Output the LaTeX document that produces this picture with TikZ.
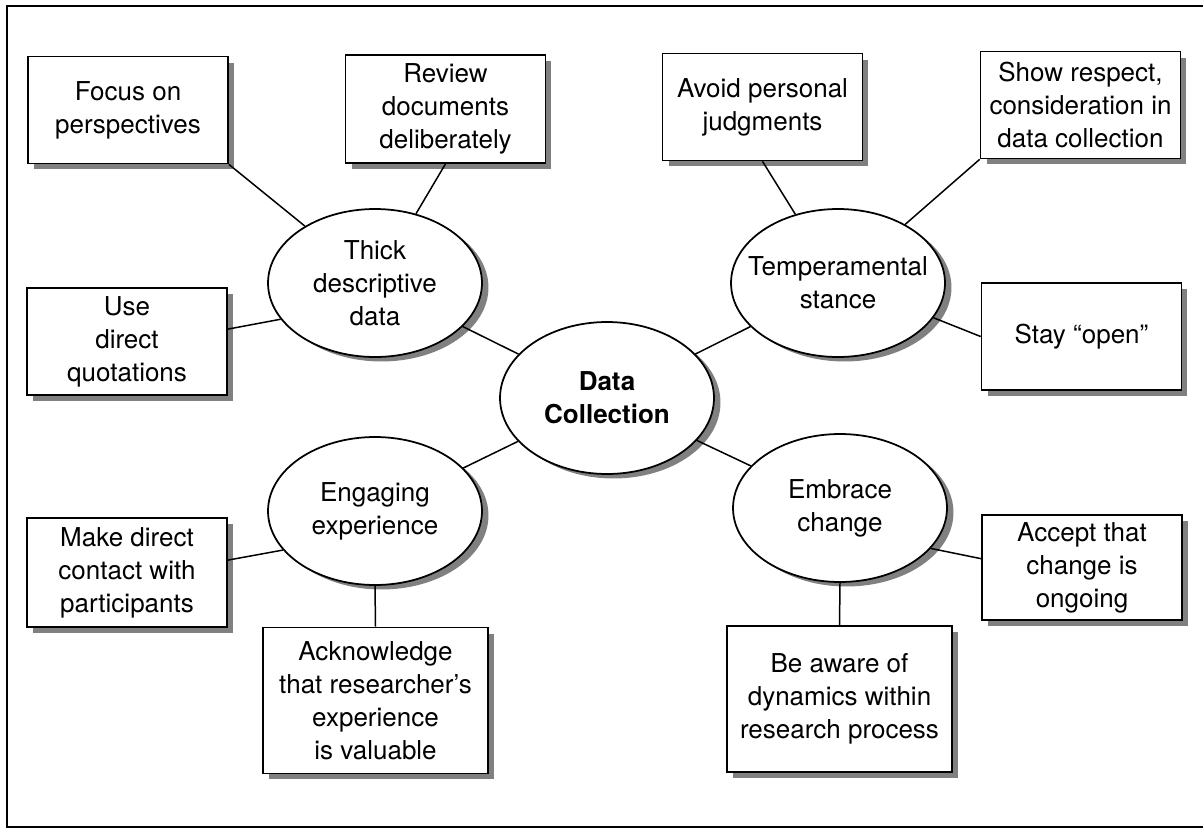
\documentclass[tikz,border=0pt]{standalone}
\usepackage{fontspec}
\setmainfont{TeX Gyre Heros}
\usetikzlibrary{shapes.geometric,shadows}
\begin{document}
\begin{tikzpicture}[x=0.02cm,y=-0.02cm,
  every node/.style={font=\fontsize{14.8}{18.7}\selectfont, align=center, inner sep=0pt},
  shade/.style={drop shadow={shadow xshift=0.12cm, shadow yshift=-0.12cm, fill=black!50, opacity=1}},
  leaf/.style={rectangle, draw, line width=1pt, fill=white, shade,
    minimum width=4cm, minimum height=2.14cm},
  bigleaf/.style={leaf, minimum width=4.5cm, minimum height=2.92cm},
  hub/.style={ellipse, draw, line width=1pt, fill=white,
    drop shadow={shadow xshift=0.13cm, shadow yshift=-0.09cm, fill=black!50, opacity=1},
    minimum width=4.28cm, minimum height=2.96cm},
  link/.style={line width=0.85pt}]

\useasboundingbox (0,0) rectangle (1203,829);

% outer frame
\draw[line width=1.2pt] (1203,6) -- (7,6) -- (7,827) -- (1203,827);

% ellipses
\node[hub] (thick) at (375,283) {};
\node[hub] (temp) at (838,283) {};
\node[hub, minimum height=3.04cm] (dc) at (607,398) {};
\node[hub] (eng) at (375,511) {};
\node[hub] (emb) at (840,508) {};

\node (thicktxt) at (thick) {Thick\\descriptive\\data};
\node (temptxt) at (temp) {Temperamental\\stance};
\node (dctxt) at (dc) {\bfseries Data\\\bfseries Collection};
\node (engtxt) at (eng) {Engaging\\experience};
\node (embtxt) at (emb) {Embrace\\change};

% boxes
\node[leaf] (focus) at (128,110) {Focus on\\perspectives};
\node[leaf, minimum height=2.16cm] (review) at (445.5,109) {Review\\documents\\deliberately};
\node[leaf] (avoid) at (762.5,107) {Avoid personal\\judgments};
\node[leaf] (show) at (1080.5,105) {Show respect,\\consideration in\\data collection};
\node[leaf] (use) at (127,341.5) {Use\\direct\\quotations};
\node[leaf] (stay) at (1081.5,336.5) {Stay “open”};
\node[leaf, minimum height=2.18cm] (make) at (127,572.5) {Make direct\\contact with\\participants};
\node[leaf, minimum height=2.1cm] (accept) at (1082,567.5) {Accept that\\change is\\ongoing};
\node[bigleaf] (ack) at (375.5,700.5) {Acknowledge\\that researcher’s\\experience\\is valuable};
\node[bigleaf] (aware) at (839.5,699) {Be aware of\\dynamics within\\research process};

% connectors
\draw[link] (focus.south east) -- (thick);
\draw[link] (review.south) -- (thick);
\draw[link] (use.7) -- (thick.201);
\draw[link] (avoid.south) -- (temp);
\draw[link] (show.south west) -- (temp);
\draw[link] (temp.-20) -- (stay.west);
\draw[link] (thick) -- (dc);
\draw[link] (temp) -- (dc);
\draw[link] (eng) -- (dc);
\draw[link] (emb) -- (dc);
\draw[link] (make.7) -- (eng.203);
\draw[link] (ack.north) -- (eng.south);
\draw[link] (aware.north) -- (emb.south);
\draw[link] (emb.-24) -- (accept.175);
\end{tikzpicture}
\end{document}
